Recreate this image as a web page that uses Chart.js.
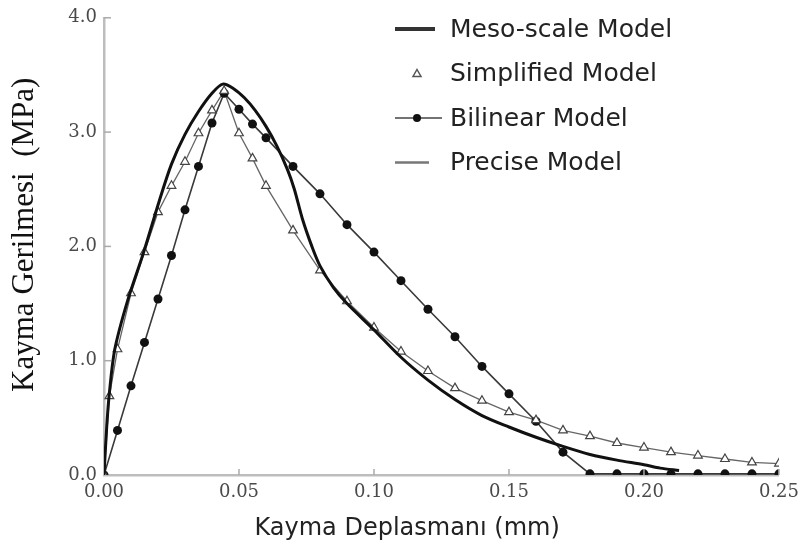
<!DOCTYPE html>
<html>
<head>
<meta charset="utf-8">
<script src="https://cdn.jsdelivr.net/npm/chart.js@4.4.1/dist/chart.umd.min.js"></script>
<style>
  body { margin: 0; background: #fff; }
  #wrap { width: 806px; height: 550px; }
</style>
</head>
<body>
<div id="wrap"><canvas id="canvas" width="806" height="550"></canvas></div>
<script>
// values (x in mm, y in MPa)
const mesoX = [0, 0.001, 0.002, 0.004, 0.0088, 0.0147, 0.0205, 0.025, 0.030, 0.035, 0.040, 0.044, 0.048, 0.052, 0.056, 0.060, 0.064, 0.068, 0.0705, 0.0735, 0.077, 0.080, 0.085, 0.090, 0.100, 0.110, 0.120, 0.130, 0.140, 0.150, 0.160, 0.170, 0.180, 0.190, 0.200, 0.206, 0.213];
const mesoY = [0, 0.42, 0.72, 1.10, 1.53, 1.95, 2.40, 2.72, 2.98, 3.18, 3.34, 3.42, 3.38, 3.30, 3.19, 3.05, 2.88, 2.67, 2.50, 2.24, 2.00, 1.83, 1.64, 1.50, 1.27, 1.03, 0.83, 0.66, 0.52, 0.42, 0.33, 0.25, 0.18, 0.13, 0.09, 0.06, 0.04];

const simpX = [0, 0.002, 0.005, 0.010, 0.015, 0.020, 0.025, 0.030, 0.035, 0.040, 0.0445, 0.050, 0.055, 0.060, 0.070, 0.080, 0.090, 0.100, 0.110, 0.120, 0.130, 0.140, 0.150, 0.160, 0.170, 0.180, 0.190, 0.200, 0.210, 0.220, 0.230, 0.240, 0.250];
const simpY = [0, 0.69, 1.10, 1.59, 1.95, 2.30, 2.53, 2.74, 2.99, 3.19, 3.36, 2.99, 2.77, 2.53, 2.14, 1.79, 1.52, 1.29, 1.08, 0.91, 0.76, 0.65, 0.55, 0.48, 0.39, 0.34, 0.28, 0.24, 0.20, 0.17, 0.14, 0.11, 0.10];

const bilX = [0, 0.005, 0.010, 0.015, 0.020, 0.025, 0.030, 0.035, 0.040, 0.0445, 0.050, 0.055, 0.060, 0.070, 0.080, 0.090, 0.100, 0.110, 0.120, 0.130, 0.140, 0.150, 0.160, 0.170, 0.180, 0.190, 0.200, 0.210, 0.220, 0.230, 0.240, 0.250];
const bilY = [0, 0.39, 0.78, 1.16, 1.54, 1.92, 2.32, 2.70, 3.08, 3.34, 3.20, 3.07, 2.95, 2.70, 2.46, 2.19, 1.95, 1.70, 1.45, 1.21, 0.95, 0.71, 0.47, 0.20, 0.01, 0.01, 0.01, 0.01, 0.01, 0.01, 0.01, 0.01];

// the thin precise curve runs through the simplified points
const preciseX = simpX;
const preciseY = simpY;

const seriesNames = ['Meso-scale Model', 'Simplified Model', 'Bilinear Model', 'Precise Model'];
const xTicks = [0, 0.05, 0.10, 0.15, 0.20, 0.25];
const yTicks = [0, 1, 2, 3, 4];

function pts(xs, ys) {
  return xs.map((x, i) => ({ x: x, y: ys[i] }));
}

// tick marks point into the plot
const innerTicks = {
  id: 'innerTicks',
  afterDraw(chart) {
    const ctx = chart.ctx;
    const xs = chart.scales.x, ys = chart.scales.y;
    const area = chart.chartArea;
    ctx.save();
    ctx.strokeStyle = '#aaa';
    ctx.lineWidth = 1.5;
    yTicks.slice(1).forEach(v => {
      const p = ys.getPixelForValue(v);
      ctx.beginPath(); ctx.moveTo(area.left, p); ctx.lineTo(area.left + 7, p); ctx.stroke();
    });
    xTicks.slice(1).forEach(v => {
      const p = xs.getPixelForValue(v);
      ctx.beginPath(); ctx.moveTo(p, area.bottom); ctx.lineTo(p, area.bottom - 6); ctx.stroke();
    });
    ctx.restore();
  }
};

// legend drawn inside the plot, upper right
const insideLegend = {
  id: 'insideLegend',
  afterDraw(chart) {
    const ctx = chart.ctx;
    const ds = chart.data.datasets;
    const x0 = 395, tx = 450, y0 = 29, step = 44.5;
    ctx.save();
    ctx.font = '25px "DejaVu Sans"';
    ctx.fillStyle = '#222';
    ctx.textBaseline = 'middle';
    ds.forEach((d, i) => {
      const y = y0 + i * step;
      if (i === 0) {
        ctx.strokeStyle = '#333'; ctx.lineWidth = 4;
        ctx.beginPath(); ctx.moveTo(x0, y); ctx.lineTo(x0 + 40, y); ctx.stroke();
      } else if (i === 1) {
        ctx.strokeStyle = '#555'; ctx.lineWidth = 1.5; ctx.fillStyle = '#fff';
        ctx.beginPath(); ctx.moveTo(417, y - 4); ctx.lineTo(421, y + 3); ctx.lineTo(413, y + 3); ctx.closePath();
        ctx.fill(); ctx.stroke();
        ctx.fillStyle = '#222';
      } else if (i === 2) {
        ctx.strokeStyle = '#444'; ctx.lineWidth = 1.5;
        ctx.beginPath(); ctx.moveTo(x0, y); ctx.lineTo(x0 + 47, y); ctx.stroke();
        ctx.fillStyle = '#111';
        ctx.beginPath(); ctx.arc(417, y, 4, 0, Math.PI * 2); ctx.fill();
        ctx.fillStyle = '#222';
      } else {
        ctx.strokeStyle = '#777'; ctx.lineWidth = 2.5;
        ctx.beginPath(); ctx.moveTo(x0, y); ctx.lineTo(x0 + 34, y); ctx.stroke();
      }
      ctx.fillText(d.label, tx, y + 1);
    });
    ctx.restore();
  }
};

const data = {
  datasets: [
    {
      label: seriesNames[0],
      data: pts(mesoX, mesoY),
      borderColor: '#111',
      borderWidth: 3,
      pointRadius: 0,
      tension: 0.3,
      fill: false
    },
    {
      label: seriesNames[1],
      data: pts(simpX, simpY),
      showLine: false,
      pointStyle: 'triangle',
      pointRadius: 5,
      pointBorderWidth: 1.2,
      pointBorderColor: '#444',
      pointBackgroundColor: '#fff'
    },
    {
      label: seriesNames[2],
      data: pts(bilX, bilY),
      borderColor: '#3a3a3a',
      borderWidth: 1.6,
      tension: 0,
      pointRadius: 4.5,
      pointBorderWidth: 0,
      pointBackgroundColor: '#111'
    },
    {
      label: seriesNames[3],
      data: pts(preciseX, preciseY),
      borderColor: '#666',
      borderWidth: 1.3,
      tension: 0,
      pointRadius: 0
    }
  ]
};

const config = {
  type: 'line',
  data: data,
  options: {
    responsive: false,
    animation: false,
    layout: { padding: { left: 0, right: 20, top: 17, bottom: 0 } },
    plugins: {
      legend: { display: false },
      tooltip: { enabled: false }
    },
    scales: {
      x: {
        type: 'linear',
        min: 0,
        max: 0.25,
        afterFit: s => { s.height = 75; },
        afterBuildTicks: s => { s.ticks = xTicks.map(v => ({ value: v })); },
        grid: { display: true, drawOnChartArea: false, drawTicks: false },
        border: { display: true, color: '#bdbdbd', width: 2.5 },
        ticks: {
          padding: 7,
          color: '#4a4a4a',
          font: { family: '"DejaVu Serif"', size: 18 },
          callback: v => Number(v).toFixed(2)
        },
        title: {
          display: true,
          // trailing spaces nudge the centred title to the left as in the original
          text: 'Kayma Deplasmanı (mm)         ',
          color: '#222',
          font: { family: '"DejaVu Sans"', size: 24 },
          padding: { top: 0, bottom: 7 }
        }
      },
      y: {
        min: 0,
        max: 4,
        afterFit: s => { s.width = 104; },
        afterBuildTicks: s => { s.ticks = yTicks.map(v => ({ value: v })); },
        grid: { display: true, drawOnChartArea: false, drawTicks: false },
        border: { display: true, color: '#bdbdbd', width: 2.5 },
        ticks: {
          padding: 7,
          color: '#4a4a4a',
          font: { family: '"DejaVu Serif"', size: 18 },
          callback: v => Number(v).toFixed(1)
        },
        title: {
          display: true,
          text: '   Kayma Gerilmesi  (MPa)',
          color: '#111',
          font: { family: '"Liberation Serif"', size: 31 },
          padding: { top: 6, bottom: 0 }
        }
      }
    }
  },
  plugins: [innerTicks, insideLegend]
};

const canvas = document.getElementById('canvas');
const chart = new Chart(canvas, config);
</script>
</body>
</html>
